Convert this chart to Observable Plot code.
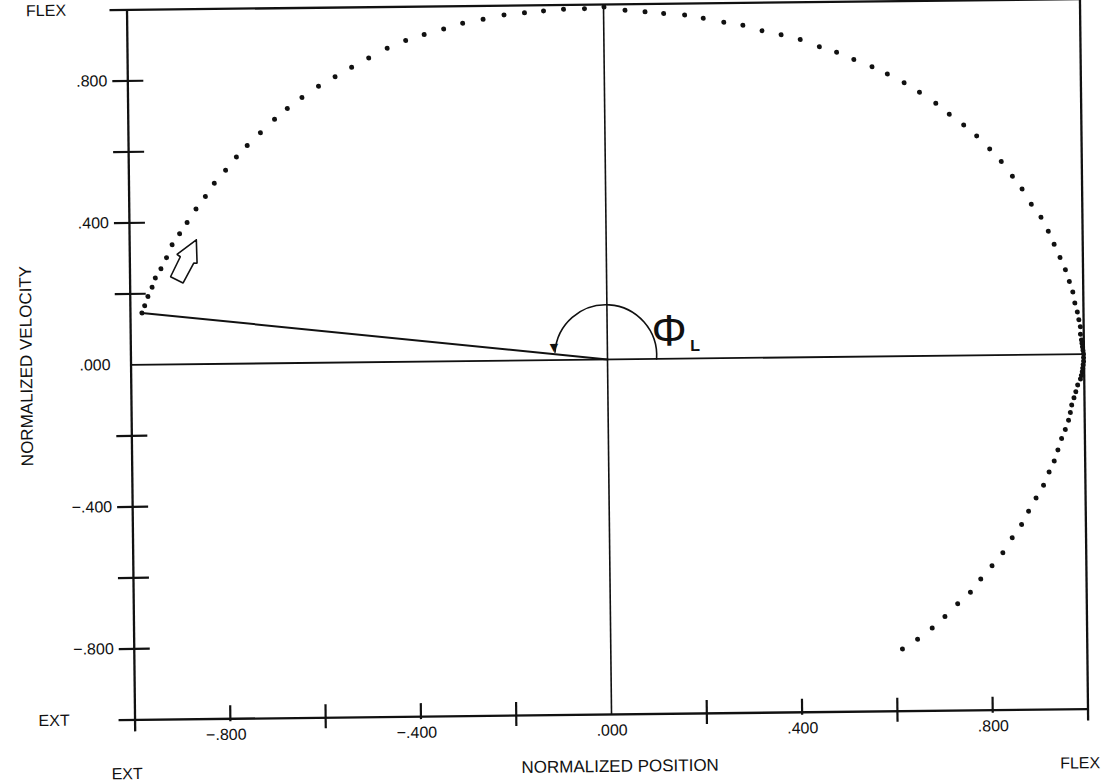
<!DOCTYPE html>
<html>
<head>
<meta charset="utf-8">
<script src="https://cdn.jsdelivr.net/npm/d3@7"></script>
<script src="https://cdn.jsdelivr.net/npm/@observablehq/plot@0.6"></script>
<style>
  html, body { margin: 0; padding: 0; background: #fff; }
  #chart { position: absolute; left: 0; top: 0; width: 1104px; height: 784px; overflow: hidden; }
  #chart svg { display: block; transform: rotate(-0.65deg); transform-origin: 607px 359px; }
</style>
</head>
<body>
<div id="chart"></div>
<script>
// ---- Phase-plane trajectory (normalized position, normalized velocity) ----
const posX = [
  -0.976, -0.970, -0.963, -0.954, -0.947, -0.935, -0.923, -0.911, -0.895, -0.879,
  -0.860, -0.840, -0.821, -0.797, -0.774, -0.751, -0.723, -0.693, -0.666, -0.635,
  -0.600, -0.565, -0.530, -0.494, -0.455, -0.416, -0.377, -0.336, -0.296, -0.253,
  -0.209, -0.166, -0.126, -0.084, -0.040, 0.001,
  0.045, 0.087, 0.126, 0.170, 0.209, 0.252, 0.292, 0.332, 0.372, 0.412,
  0.452, 0.488, 0.524, 0.562, 0.594, 0.629, 0.661, 0.695, 0.723, 0.753,
  0.780, 0.807, 0.831, 0.854, 0.874, 0.893, 0.913, 0.928, 0.940, 0.952,
  0.963, 0.971, 0.978, 0.982, 0.987, 0.990, 0.993, 0.993,
  0.995, 0.996, 0.997, 0.998, 0.999, 0.999, 0.999, 0.998, 0.997, 0.996, 0.994, 0.992,
  0.986, 0.982, 0.978, 0.973, 0.970, 0.966, 0.959, 0.951, 0.943, 0.935,
  0.924, 0.912, 0.896, 0.880, 0.865, 0.845, 0.825, 0.802, 0.778, 0.756,
  0.729, 0.702, 0.675, 0.644, 0.612
];
const velY = [
  0.146, 0.166, 0.192, 0.218, 0.244, 0.270, 0.301, 0.337, 0.368, 0.399,
  0.437, 0.472, 0.509, 0.545, 0.582, 0.614, 0.650, 0.687, 0.717, 0.748,
  0.779, 0.805, 0.831, 0.857, 0.884, 0.905, 0.921, 0.936, 0.952, 0.962,
  0.974, 0.979, 0.984, 0.988, 0.989, 0.993,
  0.983, 0.978, 0.973, 0.968, 0.958, 0.946, 0.937, 0.921, 0.909, 0.895,
  0.874, 0.858, 0.837, 0.816, 0.795, 0.770, 0.743, 0.711, 0.680, 0.649,
  0.618, 0.581, 0.545, 0.503, 0.467, 0.424, 0.387, 0.347, 0.310, 0.273,
  0.238, 0.205, 0.175, 0.144, 0.119, 0.097, 0.077, 0.056,
  0.040, 0.030, 0.020, 0.010, 0.000, -0.010, -0.020, -0.030, -0.040, -0.050, -0.060, -0.070,
  -0.087, -0.106, -0.123, -0.143, -0.164, -0.186, -0.212, -0.237, -0.269, -0.300,
  -0.331, -0.368, -0.404, -0.441, -0.478, -0.515, -0.557, -0.593, -0.630, -0.667,
  -0.699, -0.735, -0.767, -0.798, -0.825
];

// ---- Axes ----
const xDomain = [-1, 1];
const yDomain = [-1, 1];
const xTicksLabeled = [-0.8, -0.4, 0.4, 0.8];
const xTicksPlain = [-0.6, -0.2, 0.2, 0.6];
const yTicks = [-0.8, -0.6, -0.4, -0.2, 0.2, 0.4, 0.6, 0.8];
const xLabelValues = [-0.8, -0.4, 0, 0.4, 0.8];
const xLabelTexts = ["\u2212.800", "\u2212.400", ".000", ".400", ".800"];
const yLabelValues = [0.8, 0.4, 0, -0.4, -0.8];
const yLabelTexts = [".800", ".400", ".000", "\u2212.400", "\u2212.800"];
const xTitle = "NORMALIZED POSITION";
const yTitle = "NORMALIZED VELOCITY";
const endLabelsY = ["FLEX", "EXT"];   // at y = 1, y = -1
const endLabelsX = ["EXT", "FLEX"];   // at x = -1, x = 1

// ---- Annotations (phase-angle arc, symbol, direction arrow) ----
const arcStart = [0.103, 0.0];
const arcEnd = [-0.110, 0.022];
const arcHead = [-0.112, 0.036];
const phiPos = [0.130, 0.077];
const phiSubPos = [0.184, 0.036];
const arrowOutlineX = [-0.860, -0.901, -0.894, -0.915, -0.889, -0.866, -0.859, -0.860];
const arrowOutlineY = [0.350, 0.310, 0.303, 0.247, 0.229, 0.285, 0.284, 0.350];

const ink = "#111";
const pts = posX.map((x, i) => ({x, y: velY[i]}));
const phaseLine = [{x: 0, y: 0}, {x: posX[0], y: velY[0]}];
const arrowPts = arrowOutlineX.map((x, i) => ({x, y: arrowOutlineY[i]}));
const font = "'Liberation Sans', Arial, Helvetica, sans-serif";

const chart = Plot.plot({
  width: 1104,
  height: 784,
  marginLeft: 130.5,
  marginRight: 20.5,
  marginTop: 4,
  marginBottom: 70,
  x: {domain: xDomain, axis: null},
  y: {domain: yDomain, axis: null},
  style: {fontFamily: font, background: "white", overflow: "visible", color: ink},
  marks: [
    // zero lines
    Plot.ruleX([0], {y1: -1, y2: 1, stroke: ink, strokeWidth: 1.6}),
    Plot.ruleY([0], {x1: -1, x2: 1, stroke: ink, strokeWidth: 1.8}),
    // frame
    Plot.ruleX([-1], {y1: 1, y2: -1, insetBottom: -12, stroke: ink, strokeWidth: 2.3}),
    Plot.ruleX([1], {y1: 1, y2: -1, insetTop: -4, insetBottom: -12, stroke: ink, strokeWidth: 2.3}),
    Plot.ruleY([1], {x1: -1, x2: 1, insetLeft: -17, stroke: ink, strokeWidth: 2.3}),
    Plot.ruleY([-1], {x1: -1, x2: 1, insetLeft: -16, stroke: ink, strokeWidth: 2.3}),
    // ticks
    Plot.ruleY(yTicks, {x1: -1, x2: -1, insetLeft: -15, insetRight: -16, stroke: ink, strokeWidth: 2.2}),
    Plot.ruleX(xTicksLabeled, {y1: -1, y2: -1, insetTop: -13, insetBottom: -3, stroke: ink, strokeWidth: 2.2}),
    Plot.ruleX(xTicksPlain, {y1: -1, y2: -1, insetTop: -13, insetBottom: -11, stroke: ink, strokeWidth: 2.2}),
    // tick labels
    Plot.text(xLabelValues, {x: d => d, y: -1, text: (d, i) => xLabelTexts[i], textAnchor: "end", dx: 16, dy: 16, fontSize: 16, fill: ink}),
    Plot.text(yLabelValues, {x: -1, y: d => d, text: (d, i) => yLabelTexts[i], textAnchor: "end", dx: -20.5, fontSize: 16, fill: ink}),
    Plot.text([1, -1], {x: -1, y: d => d, text: (d, i) => endLabelsY[i], textAnchor: "middle", dx: -81, fontSize: 16, fill: ink}),
    Plot.text([-1, 1], {x: d => d, y: -1, text: (d, i) => endLabelsX[i], textAnchor: "middle", dx: -8.5, dy: 54, fontSize: 16, fill: ink}),
    // axis titles
    Plot.text([xTitle], {x: 0, y: -1, text: d => d, dx: 8, dy: 52, fontSize: 17, fill: ink}),
    Plot.text([yTitle], {x: -1, y: 0, text: d => d, rotate: -90, dx: -104.5, fontSize: 17, fill: ink}),
    // phase angle line and arc
    Plot.line(phaseLine, {x: "x", y: "y", stroke: ink, strokeWidth: 2}),
    Plot.arrow([0], {x1: arcStart[0], y1: arcStart[1], x2: arcEnd[0], y2: arcEnd[1], bend: -90, headLength: 0, stroke: ink, strokeWidth: 1.6}),
    Plot.text([0], {x: arcHead[0], y: arcHead[1], text: () => "\u25BC", fontSize: 11, fill: ink, fontFamily: "DejaVu Sans"}),
    Plot.text([0], {x: phiPos[0], y: phiPos[1], text: () => "\u03A6", fontSize: 44, fill: ink}),
    Plot.text([0], {x: phiSubPos[0], y: phiSubPos[1], text: () => "L", fontSize: 16, fontWeight: "bold", fill: ink}),
    // hollow direction arrow
    Plot.line(arrowPts, {x: "x", y: "y", stroke: ink, strokeWidth: 1.6, strokeLinejoin: "miter"}),
    // trajectory samples
    Plot.dot(pts, {x: "x", y: "y", r: 2.5, fill: ink, stroke: "none"})
  ]
});
document.getElementById("chart").appendChild(chart);
</script>
</body>
</html>
